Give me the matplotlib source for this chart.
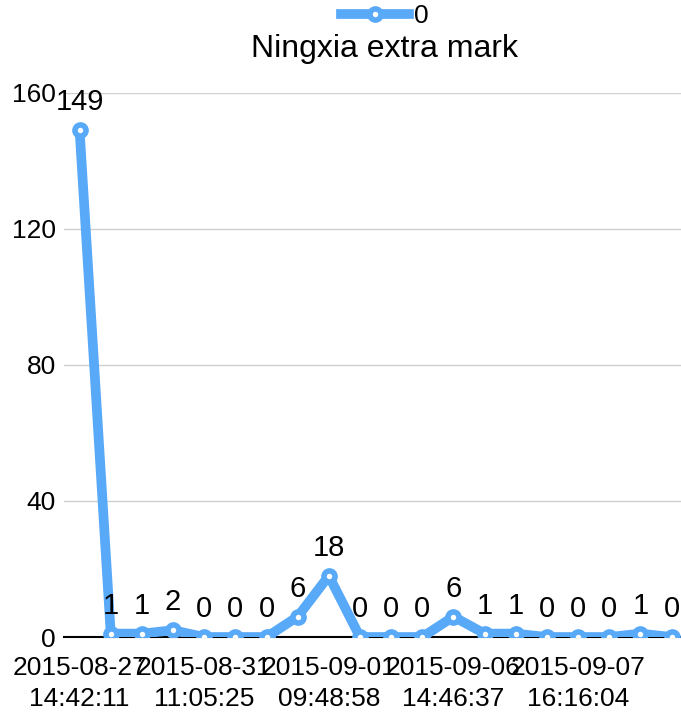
import numpy as np
import matplotlib
matplotlib.use("Agg")
import matplotlib.pyplot as plt

plt.rcParams['font.family'] = ['Liberation Sans', 'DejaVu Sans']

# data
values = [149, 1, 1, 2, 0, 0, 0, 6, 18, 0, 0, 0, 6, 1, 1, 0, 0, 0, 1, 0]
tick_pos = [0, 4, 8, 12, 16]
tick_labels = ["2015-08-27\n14:42:11", "2015-08-31\n11:05:25", "2015-09-01\n09:48:58",
               "2015-09-06\n14:46:37", "2015-09-07\n16:16:04"]
yticks = [0, 40, 80, 120, 160]
series_name = "0"
title = "Ningxia extra mark"

color = '#58a9f8'
x = np.arange(len(values))

fig = plt.figure(figsize=(6.81, 7.19), dpi=100)
ax = fig.add_axes([0.094, 0.114, 0.915, 0.757])

ax.plot(x, values, color=color, lw=7, marker='o', markersize=8,
        markerfacecolor='white', markeredgecolor=color, markeredgewidth=4,
        label=series_name, zorder=3)

for xi, v in zip(x, values):
    ax.annotate(str(v), (xi, v), xytext=(0, 10), textcoords='offset points',
                ha='center', va='bottom', fontsize=21, zorder=4)

ax.set_xlim(-0.5, len(values) - 0.5)
ax.set_ylim(0, 160)
ax.set_yticks(yticks)
ax.set_yticklabels([str(t) for t in yticks], fontsize=19)
ax.set_xticks(tick_pos)
ax.set_xticklabels(tick_labels, fontsize=19, linespacing=1.35)
ax.tick_params(axis='x', length=0, pad=14)
ax.tick_params(axis='y', length=0, pad=6)

ax.grid(axis='y', color='#d0d0d0', lw=1)
ax.set_axisbelow(True)
for s in ['top', 'right', 'left']:
    ax.spines[s].set_visible(False)
ax.spines['bottom'].set_color('black')
ax.spines['bottom'].set_linewidth(1.5)

fig.text(0.565, 0.932, title, ha='center', va='center', fontsize=23)
fig.legend(loc='center', bbox_to_anchor=(0.565, 0.978), frameon=False,
           fontsize=19, handlelength=2.6, handletextpad=0.2, borderpad=0)

fig.savefig("out.png", dpi=100)
